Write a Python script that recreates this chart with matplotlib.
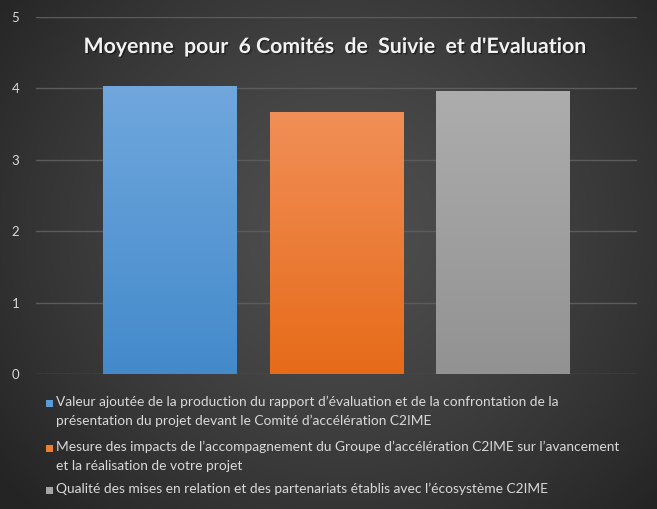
import numpy as np
import matplotlib
matplotlib.use("Agg")
import matplotlib.pyplot as plt
from matplotlib.colors import LinearSegmentedColormap
from matplotlib.patches import Rectangle
import matplotlib.patheffects as pe

# ---- data ----
series_labels = [
    "Valeur ajoutée de la production du rapport d’évaluation et de la confrontation de la\nprésentation du projet devant le Comité d’accélération C2IME",
    "Mesure des impacts de l’accompagnement du Groupe d’accélération C2IME sur l’avancement\net la réalisation de votre projet",
    "Qualité des mises en relation et des partenariats établis avec l’écosystème C2IME",
]
values = [4.03, 3.67, 3.97]
yticks = [0, 1, 2, 3, 4, 5]
title = "Moyenne  pour  6 Comités  de  Suivie  et d'Evaluation"

top_colors = ["#70a7dd", "#f18f58", "#adadad"]
bottom_colors = ["#438acb", "#e66b19", "#929292"]
legend_colors = ["#5b9bd5", "#ed7d31", "#a5a5a5"]

FONT = ["Lato", "DejaVu Sans"]

W, H = 657, 509
fig = plt.figure(figsize=(W / 100, H / 100), dpi=100)

# background radial gradient
bg = fig.add_axes([0, 0, 1, 1])
yy, xx = np.mgrid[0:H, 0:W]
cx, cy = W * 0.52, H * 0.45
r = np.sqrt(((xx - cx) / (W * 0.65)) ** 2 + ((yy - cy) / (H * 0.78)) ** 2)
r = np.clip(r, 0, 1)
inner, outer = 0x4e, 0x25
val = (inner + (outer - inner) * r ** 1.4) / 255.0
img = np.dstack([val, val, val])
bg.imshow(img, extent=[0, 1, 0, 1], aspect="auto", origin="upper")
bg.set_axis_off()

ax = fig.add_axes([36 / W, (H - 374) / H, (637 - 36) / W, (374 - 17) / H])
ax.patch.set_alpha(0)
x = np.arange(len(values))
bw = 0.804
bars = ax.bar(x, values, width=bw, color="none", zorder=3)
for b, tc, bc in zip(bars, top_colors, bottom_colors):
    cmap = LinearSegmentedColormap.from_list("g", [bc, tc])
    grad = np.linspace(0, 1, 256).reshape(-1, 1)
    x0, y0 = b.get_x(), b.get_y()
    im = ax.imshow(grad, cmap=cmap, origin="lower", aspect="auto",
                   extent=[x0, x0 + b.get_width(), y0, y0 + b.get_height()], zorder=3)
    im.set_clip_path(b)

ax.set_xlim(-bw, len(values) - 1 + bw)
ax.set_ylim(0, 5)
ax.set_yticks(yticks)
ax.set_yticklabels([str(t) for t in yticks])
ax.set_xticks([])
for s in ax.spines.values():
    s.set_visible(False)
ax.grid(axis="y", color="#5c5c5c", linewidth=1)
ax.set_axisbelow(True)
ax.tick_params(axis="y", length=0, pad=12, labelcolor="#d9d9d9", labelsize=9.5)
for lab in ax.get_yticklabels():
    lab.set_fontfamily(FONT)

fig.text(335 / W, 1 - 47 / H, title, ha="center", va="center", fontsize=15.3,
         fontweight="bold", color="#f2f2f2", family=FONT,
         path_effects=[pe.withSimplePatchShadow(offset=(1, -1), shadow_rgbFace="#111111", alpha=0.6)])

# legend
leg_y = [403, 448, 490]
for lab, col, ly in zip(series_labels, legend_colors, leg_y):
    fig.patches.append(Rectangle((46 / W, 1 - (ly + 3.5) / H), 7 / W, 7 / H,
                                 transform=fig.transFigure, facecolor=col, edgecolor="none"))
    fig.text(56 / W, 1 - (ly - 7) / H, lab, ha="left", va="top", fontsize=9.9,
             color="#d9d9d9", family=FONT, linespacing=1.62)

fig.savefig("out.png", dpi=100)
